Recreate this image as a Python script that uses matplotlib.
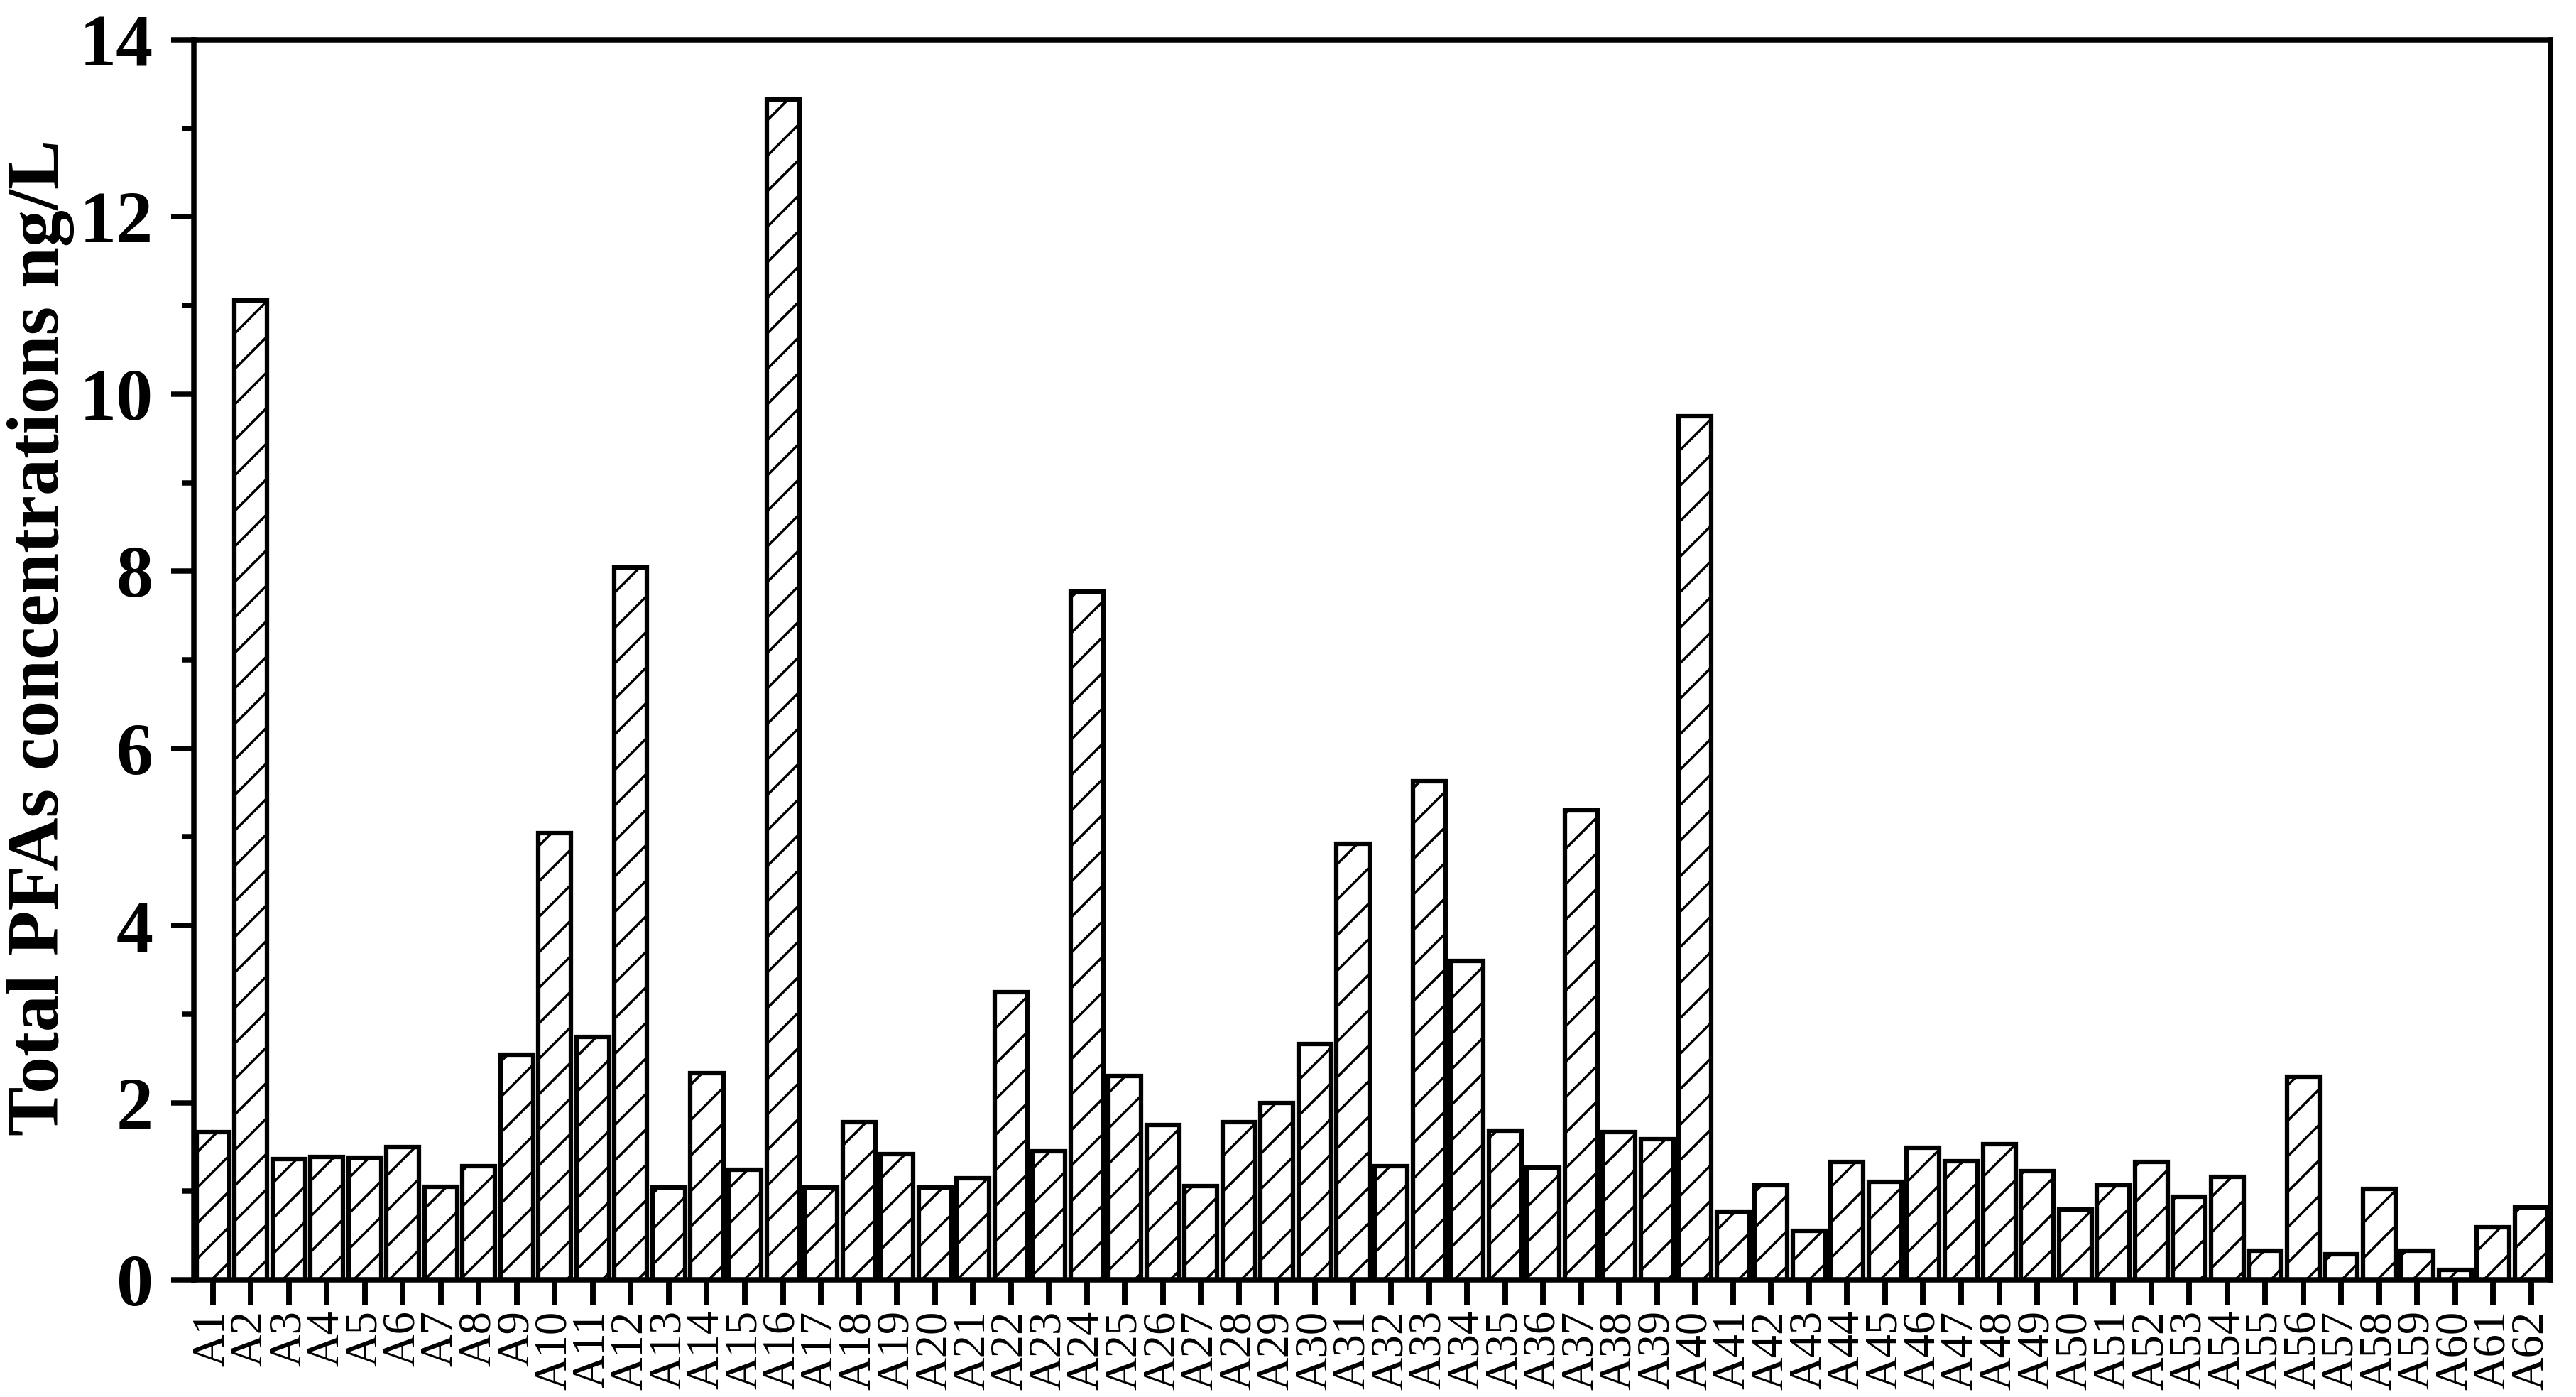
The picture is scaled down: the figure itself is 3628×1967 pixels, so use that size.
import matplotlib
matplotlib.use("Agg")
import matplotlib.pyplot as plt
from matplotlib.ticker import MultipleLocator

sites = [f"A{i}" for i in range(1, 63)]
values = [1.67, 11.06, 1.36, 1.39, 1.38, 1.50, 1.05, 1.28, 2.54, 5.04,
          2.74, 8.04, 1.04, 2.33, 1.24, 13.33, 1.04, 1.78, 1.42, 1.04,
          1.15, 3.25, 1.45, 7.77, 2.30, 1.75, 1.06, 1.78, 2.00, 2.66,
          4.92, 1.28, 5.63, 3.60, 1.68, 1.27, 5.30, 1.67, 1.59, 9.75,
          0.77, 1.07, 0.555, 1.33, 1.11, 1.49, 1.34, 1.53, 1.23, 0.79,
          1.07, 1.33, 0.94, 1.16, 0.33, 2.29, 0.29, 1.03, 0.33, 0.11,
          0.59, 0.82]
y_ticks = [0, 2, 4, 6, 8, 10, 12, 14]
y_label = "Total PFAs concentrations ng/L"

plt.rcParams['hatch.linewidth'] = 0.85
plt.rcParams['font.family'] = ['Liberation Serif', 'DejaVu Serif']

DPI = 300
fig = plt.figure(figsize=(3628 / DPI, 1967 / DPI), dpi=DPI)
ax = fig.add_axes([0.0752, 0.0839, 0.990 - 0.0752, 0.9715 - 0.0839])

x = list(range(len(sites)))
ax.bar(x, values, width=0.86, facecolor='white', edgecolor='black',
       linewidth=1.5, hatch='//')

ax.set_xlim(-0.5, len(sites) - 0.5)
ax.set_ylim(0, 14)
ax.set_yticks(y_ticks)
ax.yaxis.set_minor_locator(MultipleLocator(1))
ax.set_xticks(x)
ax.set_xticklabels(sites, rotation=90, fontsize=15.5)

for lbl in ax.get_yticklabels():
    lbl.set_fontweight('bold')
    lbl.set_fontsize(25)

ax.tick_params(axis='y', which='major', direction='out', length=7.7, width=1.8, pad=6)
ax.tick_params(axis='y', which='minor', direction='out', length=3.8, width=1.8)
ax.tick_params(axis='x', which='major', direction='out', length=8.4, width=1.9, pad=2)
ax.tick_params(top=False, right=False, which='both')

for s in ax.spines.values():
    s.set_linewidth(1.8)

ax.set_ylabel(y_label, fontsize=25, fontweight='bold')
ax.yaxis.set_label_coords(-0.0505, 0.518)

fig.savefig("out.png", dpi=DPI)
